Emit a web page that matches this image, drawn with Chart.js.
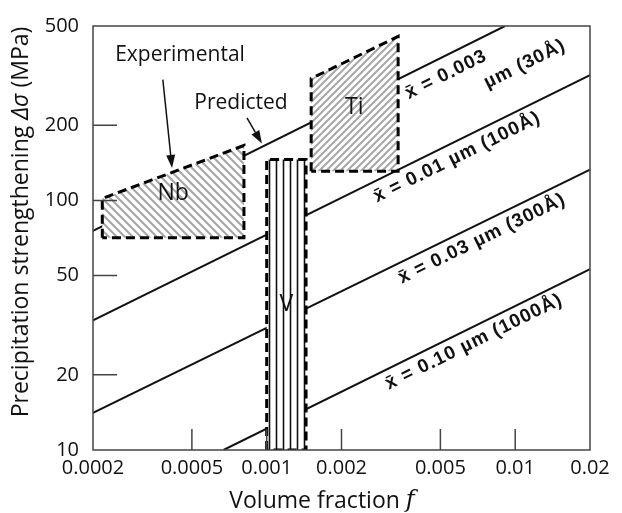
<!DOCTYPE html>
<html><head><meta charset="utf-8">
<script src="https://cdn.jsdelivr.net/npm/chart.js@4"></script>
<style>html,body{margin:0;padding:0;background:#fff}#wrap{width:622px;height:513px}</style>
</head><body><div id="wrap"><canvas id="c" width="622" height="513"></canvas></div>
<script>
// ---- data ----
const xTickValues = [0.0002, 0.0005, 0.001, 0.002, 0.005, 0.01, 0.02];
const xTickLabels = ['0.0002', '0.0005', '0.001', '0.002', '0.005', '0.01', '0.02'];
const yTickValues = [10, 20, 50, 100, 200, 500];
const yTickLabels = ['10', '20', '50', '100', '200', '500'];
const xInnerTicks = [0.0005, 0.001, 0.002, 0.005, 0.01];
const yInnerTicks = [20, 50, 100, 200];

// predicted lines (f, Δσ MPa)
const line003 = [[0.0002, 75.5], [0.0091, 500]];
const line01 = [[0.0002, 33.1], [0.02, 318]];
const line03 = [[0.0002, 14.1], [0.02, 133]];
const line10 = [[0.00067, 10], [0.02, 53]];

// experimental regions
const nbRegion = [[0.000218, 70.8], [0.000218, 101.8], [0.00081, 166], [0.00081, 70.8], [0.000218, 70.8]];
const vRegion = [[0.001, 10], [0.001, 146], [0.00144, 146], [0.00144, 10], [0.001, 10]];
const tiRegion = [[0.00151, 131], [0.00151, 308], [0.00338, 454], [0.00338, 131], [0.00151, 131]];

// text annotations (anchor in data space)
const lineLabels = [
  {text: 'x\u0304 = 0.003', at: [0.00527, 319], line: line003},
  {text: '\u00b5m (30\u00c5)', at: [0.01094, 352], line: line003},
  {text: 'x\u0304 = 0.01 \u00b5m (100\u00c5)', at: [0.00584, 149], line: line01},
  {text: 'x\u0304 = 0.03 \u00b5m (300\u00c5)', at: [0.00735, 70.2], line: line03},
  {text: 'x\u0304 = 0.10 \u00b5m (1000\u00c5)', at: [0.00683, 27.1], line: line10}
];
const regionLabels = [
  {text: 'Nb', at: [0.00042, 106.6]},
  {text: 'Ti', at: [0.00225, 236]},
  {text: 'V', at: [0.0012, 38.3]}
];
const notes = [
  {text: 'Experimental', at: [0.000448, 383], from: [0.000382, 305], to: [0.000416, 135]},
  {text: 'Predicted', at: [0.000788, 245], from: [0.000833, 214], to: [0.000957, 169]}
];

const pts = a => a.map(p => ({x: p[0], y: p[1]}));

function hatch(kind, size, color, lw) {
  const c = document.createElement('canvas');
  c.width = size; c.height = size;
  const g = c.getContext('2d');
  g.fillStyle = '#fff'; g.fillRect(0, 0, size, size);
  g.strokeStyle = color; g.lineWidth = lw; g.lineCap = 'square';
  g.beginPath();
  if (kind === 'v') {
    g.moveTo(size / 2, 0); g.lineTo(size / 2, size);
  } else {
    for (const k of [-size, 0, size]) {
      if (kind === '\\') { g.moveTo(k, 0); g.lineTo(k + size, size); }
      else { g.moveTo(k, size); g.lineTo(k + size, 0); }
    }
  }
  g.stroke();
  return g.createPattern(c, 'repeat');
}

const tickFont = {family: 'Open Sans', size: 20};
const lineDs = (d) => ({data: pts(d), borderColor: '#111', borderWidth: 2, pointRadius: 0, fill: false, order: 2, tension: 0});
const regionDs = (d, pat) => ({data: pts(d), borderColor: '#000', borderWidth: 3, borderDash: [9, 5], pointRadius: 0,
  fill: 'shape', backgroundColor: pat, order: 1, tension: 0});

const overlay = {
  id: 'overlay',
  afterDatasetsDraw(chart) {
    const {ctx, chartArea: a, scales: {x, y}} = chart;
    ctx.save();
    ctx.strokeStyle = '#444'; ctx.lineWidth = 1.5;
    ctx.strokeRect(a.left, a.top, a.right - a.left, a.bottom - a.top);
    ctx.beginPath();
    yInnerTicks.forEach(v => { const py = y.getPixelForValue(v); ctx.moveTo(a.left, py); ctx.lineTo(a.left + 24, py); });
    xInnerTicks.forEach(v => { const px = x.getPixelForValue(v); ctx.moveTo(px, a.bottom); ctx.lineTo(px, a.bottom - 21); });
    ctx.stroke();
    ctx.restore();
  },
  afterDraw(chart) {
    const {ctx, chartArea: a, scales: {x, y}} = chart;
    const P = (p) => [x.getPixelForValue(p[0]), y.getPixelForValue(p[1])];
    ctx.save();
    ctx.fillStyle = '#111'; ctx.textAlign = 'center'; ctx.textBaseline = 'middle';
    ctx.font = '23px "Open Sans"';
    regionLabels.forEach(r => { const [px, py] = P(r.at); ctx.fillText(r.text, px, py); });
    ctx.font = '21px "Open Sans"';
    notes.forEach(n => {
      const [px, py] = P(n.at); ctx.fillText(n.text, px, py);
      const [x1, y1] = P(n.from), [x2, y2] = P(n.to);
      const ang = Math.atan2(y2 - y1, x2 - x1), L = 13, W = 4.5;
      ctx.strokeStyle = '#111'; ctx.lineWidth = 1.5;
      ctx.beginPath(); ctx.moveTo(x1, y1);
      ctx.lineTo(x2 - L * Math.cos(ang), y2 - L * Math.sin(ang)); ctx.stroke();
      ctx.beginPath(); ctx.moveTo(x2, y2);
      ctx.lineTo(x2 - L * Math.cos(ang) + W * Math.sin(ang), y2 - L * Math.sin(ang) - W * Math.cos(ang));
      ctx.lineTo(x2 - L * Math.cos(ang) - W * Math.sin(ang), y2 - L * Math.sin(ang) + W * Math.cos(ang));
      ctx.closePath(); ctx.fill();
    });
    ctx.font = 'bold 19px "Liberation Sans"';
    try { ctx.letterSpacing = '1px'; } catch (e) {}
    lineLabels.forEach(l => {
      const [ax, ay] = P(l.line[0]), [bx, by] = P(l.line[1]);
      const ang = Math.atan2(by - ay, bx - ax);
      const [px, py] = P(l.at);
      ctx.save(); ctx.translate(px, py); ctx.rotate(ang);
      ctx.fillText(l.text, 0, 0); ctx.restore();
    });
    try { ctx.letterSpacing = '0px'; } catch (e) {}
    const drawParts = (parts, cx, cy, rot) => {
      ctx.save(); ctx.translate(cx, cy); ctx.rotate(rot);
      ctx.textAlign = 'left'; ctx.textBaseline = 'middle';
      let w = 0;
      parts.forEach(p => { ctx.font = p.font; w += ctx.measureText(p.t).width; });
      let cur = -w / 2;
      parts.forEach(p => { ctx.font = p.font; ctx.fillText(p.t, cur, 0); cur += ctx.measureText(p.t).width; });
      ctx.restore();
    };
    drawParts([
      {t: 'Volume fraction ', font: '23px "Open Sans"'},
      {t: 'f', font: 'italic 24px "DejaVu Serif"'}
    ], 322, 501, 0);
    drawParts([
      {t: 'Precipitation strengthening ', font: '23px "Open Sans"'},
      {t: '\u0394\u03c3', font: 'italic 23px "Open Sans"'},
      {t: ' (MPa)', font: '23px "Open Sans"'}
    ], 21, 222, -Math.PI / 2);
    ctx.restore();
  }
};

const labelFor = (vals, labs) => (v) => {
  const i = vals.findIndex(t => Math.abs(t - v) / t < 1e-6);
  return i >= 0 ? labs[i] : '';
};

new Chart(document.getElementById('c'), {
  type: 'line',
  data: {datasets: [
    regionDs(nbRegion, hatch('\\', 8, '#a8a8a8', 2.2)),
    regionDs(vRegion, hatch('v', 7, '#111', 1.6)),
    regionDs(tiRegion, hatch('/', 7, '#a8a8a8', 2)),
    lineDs(line003), lineDs(line01), lineDs(line03), lineDs(line10)
  ]},
  options: {
    responsive: false, animation: false, events: [],
    layout: {padding: {top: 20, right: 32, left: 0, bottom: 0}},
    plugins: {legend: {display: false}, tooltip: {enabled: false}},
    scales: {
      x: {type: 'logarithmic', min: 0.0002, max: 0.02,
        afterBuildTicks: s => { s.ticks = xTickValues.map(v => ({value: v})); },
        afterFit: s => { s.height = 63; },
        ticks: {callback: labelFor(xTickValues, xTickLabels), autoSkip: false, maxRotation: 0, font: tickFont, color: '#111', padding: 6},
        grid: {display: false, drawTicks: false}, border: {display: false}},
      y: {type: 'logarithmic', min: 10, max: 500,
        afterBuildTicks: s => { s.ticks = yTickValues.map(v => ({value: v})); },
        afterFit: s => { s.width = 93; },
        ticks: {callback: labelFor(yTickValues, yTickLabels), autoSkip: false, font: tickFont, color: '#111', padding: 14},
        grid: {display: false, drawTicks: false}, border: {display: false}}
    }
  },
  plugins: [overlay]
});
</script></body></html>
